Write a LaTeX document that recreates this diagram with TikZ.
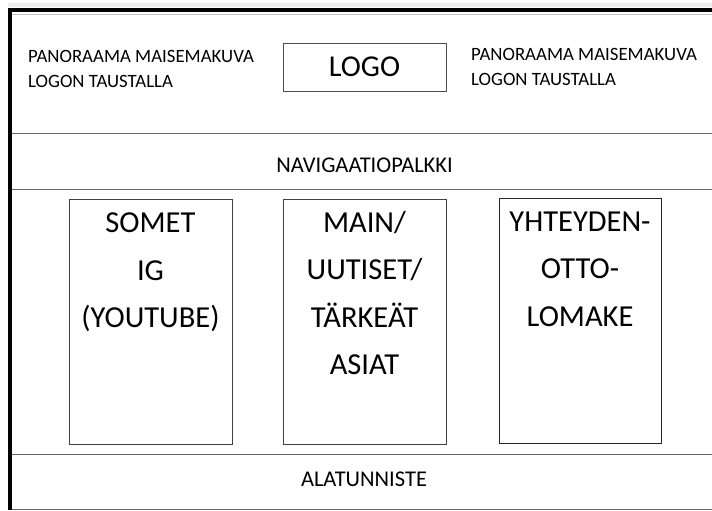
\documentclass[tikz,border=0pt]{standalone}
\usepackage{fontspec}
\setmainfont{Carlito}
\usetikzlibrary{positioning}
\begin{document}
\begin{tikzpicture}[x=1pt, y=-1pt,
    rule/.style={draw=black!60, line width=1pt},
    column/.style={draw=black!75, line width=0.8pt, minimum width=163pt, minimum height=245pt, inner sep=0pt},
    coltext/.style={align=center, inner sep=0pt, font=\fontsize{30.5}{47.5}\selectfont},
    small/.style={inner sep=0pt, align=left, anchor=west, font=\fontsize{18.8}{25}\selectfont},
    bar/.style={inner sep=0pt, font=\fontsize{22.5}{26}\selectfont}]
  \useasboundingbox (0,0) rectangle (712,511);
  \fill[gray!15] (8,3) rectangle (712,7);
  % frame
  \draw[line width=4pt] (712,10) -- (10,10) -- (10,509.5);
  \draw[gray!50, line width=0.8pt] (12,14) -- (712,14);
  \foreach \y in {133,189,454,509.5}
    \draw[rule] (12,\y) -- (712,\y);
  % header
  \node[small] (panoleft) at (28,68.5) {PANORAAMA MAISEMAKUVA\\LOGON TAUSTALLA};
  \node[draw=black!70, line width=0.8pt, minimum width=163pt, minimum height=48pt, inner sep=0pt,
    font=\fontsize{30.3}{35}\selectfont] (logo) at (364.5,67) {LOGO};
  \node[small] (panoright) at (471,66.5) {PANORAAMA MAISEMAKUVA\\LOGON TAUSTALLA};
  \node[bar] (navi) at (364.5,165) {NAVIGAATIOPALKKI};
  % columns
  \node[column] (somet) at (150.5,321.5) {};
  \node[column] (main) at (364.5,321.5) {};
  \node[column, minimum width=162pt, draw=black!85] (contact) at (580,320.5) {};
  \node[coltext, below=14pt of somet.north] (somettext) {SOMET\\IG\\(YOUTUBE)};
  \node[coltext, below=12.5pt of main.north] (maintext) {MAIN/\\UUTISET/\\TÄRKEÄT\\ASIAT};
  \node[coltext, below=14pt of contact.north] (contacttext) {YHTEYDEN-\\OTTO-\\LOMAKE};
  \node[bar] (footer) at (364,479.5) {ALATUNNISTE};
\end{tikzpicture}
\end{document}
